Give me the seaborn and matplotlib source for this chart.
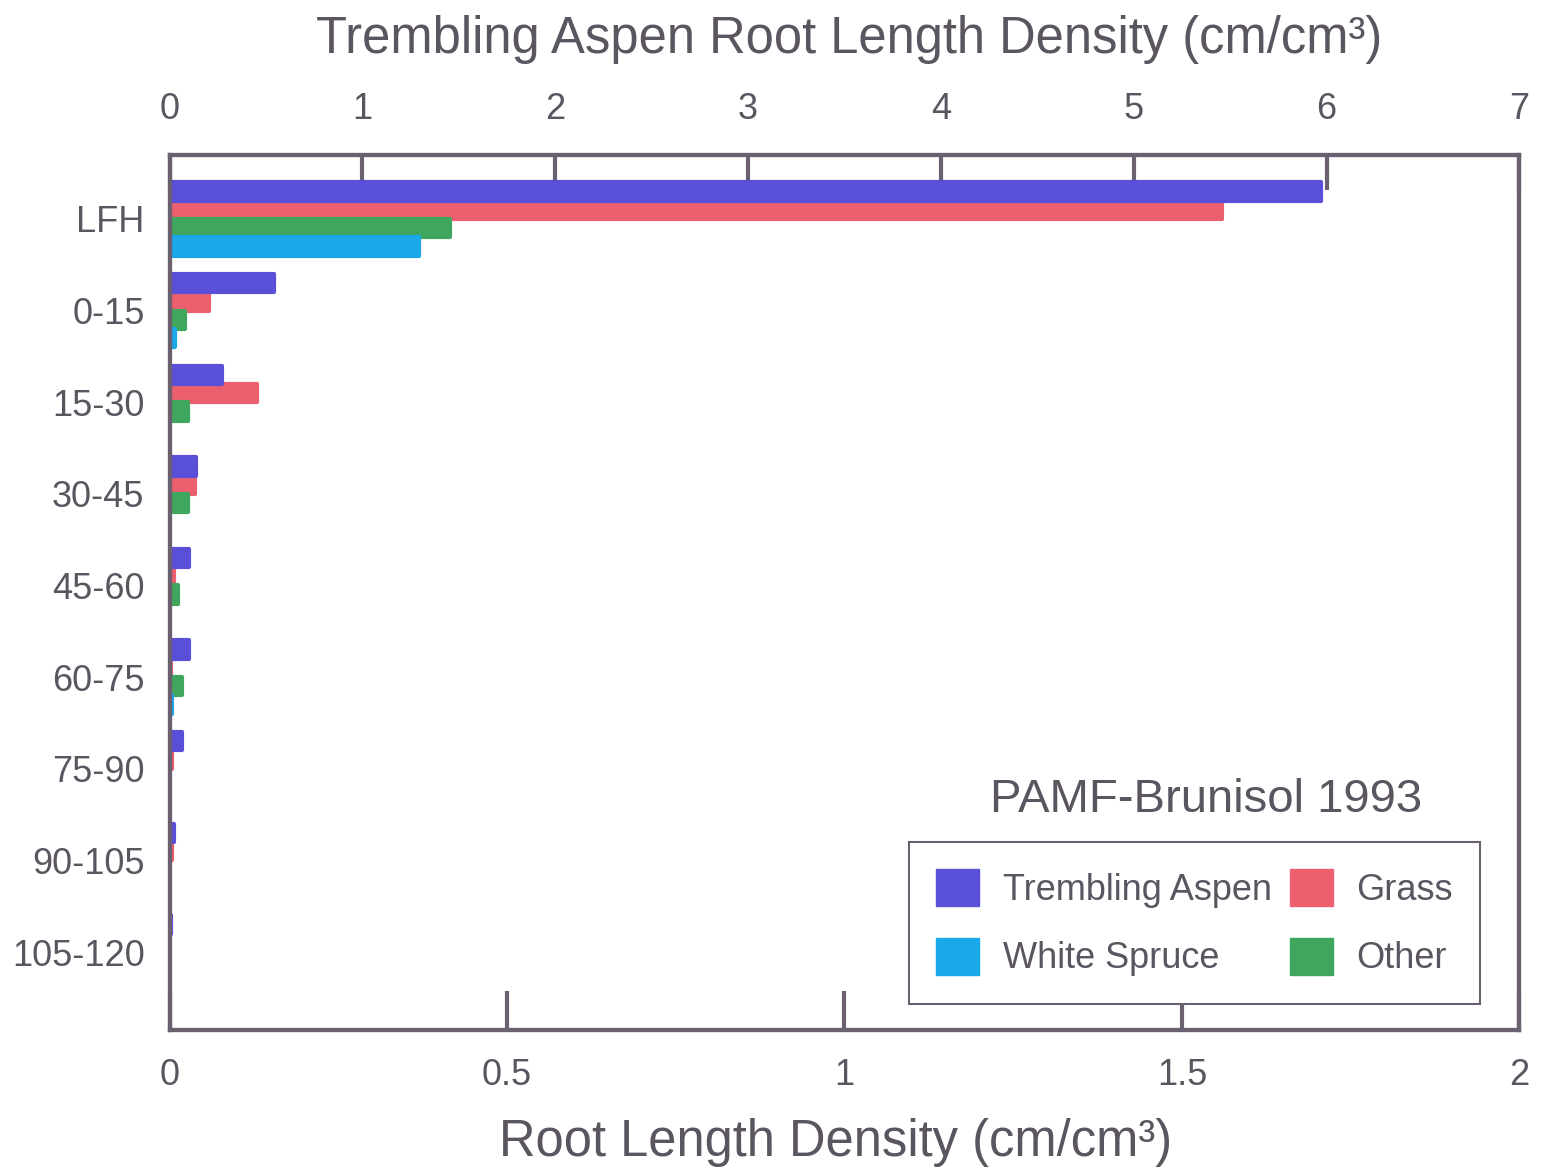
import numpy as np
import pandas as pd
import matplotlib
matplotlib.use('Agg')
import matplotlib.pyplot as plt
import seaborn as sns
from matplotlib.patches import Patch

# 깊이 구간 (cm)
depths = ['LFH', '0-15', '15-30', '30-45', '45-60', '60-75', '75-90', '90-105', '105-120']

# Trembling Aspen -> 위쪽 축 (0-7)
aspen = [5.97, 0.54, 0.27, 0.135, 0.10, 0.10, 0.065, 0.025, 0.01]
# 나머지 -> 아래쪽 축 (0-2)
grass = [1.56, 0.058, 0.13, 0.038, 0.006, 0.002, 0.004, 0.003, 0.0]
other = [0.415, 0.023, 0.027, 0.027, 0.013, 0.018, 0.0, 0.0, 0.0]
spruce = [0.37, 0.008, 0.0, 0.0, 0.0, 0.004, 0.0, 0.0, 0.0]

top_ticks = [0, 1, 2, 3, 4, 5, 6, 7]
bottom_ticks = [0, 0.5, 1, 1.5, 2]
bottom_labels = ['0', '0.5', '1', '1.5', '2']

order = ['Trembling Aspen', 'Grass', 'Other', 'White Spruce']
palette = {'Trembling Aspen': '#5a4fd8', 'Grass': '#ec5f6e',
           'Other': '#3fa65e', 'White Spruce': '#1aa8e8'}

df_top = pd.DataFrame({'depth': depths, 'value': aspen, 'species': 'Trembling Aspen'})
df_bot = pd.concat([
    pd.DataFrame({'depth': depths, 'value': grass, 'species': 'Grass'}),
    pd.DataFrame({'depth': depths, 'value': other, 'species': 'Other'}),
    pd.DataFrame({'depth': depths, 'value': spruce, 'species': 'White Spruce'}),
])

sns.set_style('white')
plt.rcParams['font.family'] = ['Liberation Sans', 'DejaVu Sans']
txt = '#5b5560'
spine_c = '#6a6070'

fig = plt.figure(figsize=(15.41, 11.73), dpi=100)
ax = fig.add_axes([0.110, 0.122, 0.876, 0.746])
ax2 = ax.twiny()

sns.barplot(data=df_bot, x='value', y='depth', hue='species', hue_order=order,
            order=depths, palette=palette, saturation=1, errorbar=None,
            width=0.8, dodge=True, legend=False, ax=ax, orient='h')
sns.barplot(data=df_top, x='value', y='depth', hue='species', hue_order=order,
            order=depths, palette=palette, saturation=1, errorbar=None,
            width=0.8, dodge=True, legend=False, ax=ax2, orient='h')

# 막대 살짝 두껍게 (원본처럼 겹쳐보이게)
for a in (ax, ax2):
    for p in a.patches:
        if p.get_width() > 0:
            p.set_edgecolor(p.get_facecolor())
            p.set_linewidth(3)
            p.set_joinstyle('round')

ax.set_xlim(0, 2)
ax2.set_xlim(0, 7)
ax.set_ylim(8.85, -0.7)

ax.set_xticks(bottom_ticks)
ax.set_xticklabels(bottom_labels)
ax2.set_xticks(top_ticks)
ax.set_xlabel('')
ax.set_ylabel('')
ax2.set_xlabel('')
ax2.set_ylabel('')

ax.tick_params(axis='x', direction='in', length=28, width=3, color=spine_c,
               labelsize=26, labelcolor=txt, pad=20)
ax2.tick_params(axis='x', direction='in', length=25, width=3, color=spine_c,
                labelsize=26, labelcolor=txt, pad=20)
ax.tick_params(axis='y', length=0, labelsize=26, labelcolor=txt, pad=18)

for a in (ax, ax2):
    for s in a.spines.values():
        s.set_color(spine_c)
        s.set_linewidth(3)

fig.text(0.551, 0.966, 'Trembling Aspen Root Length Density (cm/cm³)',
         ha='center', va='center', fontsize=36.5, color=txt)
fig.text(0.542, 0.026, 'Root Length Density (cm/cm³)',
         ha='center', va='center', fontsize=36.5, color=txt)
fig.text(0.783, 0.318, 'PAMF-Brunisol 1993',
         ha='center', va='center', fontsize=34, color=txt)

handles = [Patch(color=palette[k], label=k) for k in
           ['Trembling Aspen', 'White Spruce', 'Grass', 'Other']]
leg = ax.legend(handles=handles, ncol=2, loc='upper right',
                bbox_to_anchor=(1480 / 1541, 1 - 842 / 1173),
                bbox_transform=fig.transFigure, borderaxespad=0,
                fontsize=26, handlelength=1.2, handleheight=1.2,
                handletextpad=0.65, columnspacing=0.5, labelspacing=0.83,
                borderpad=0.75, fancybox=False, framealpha=1)
leg.get_frame().set_edgecolor(spine_c)
leg.get_frame().set_linewidth(1.5)
for t in leg.get_texts():
    t.set_color(txt)

plt.savefig('out.png', dpi=100)
